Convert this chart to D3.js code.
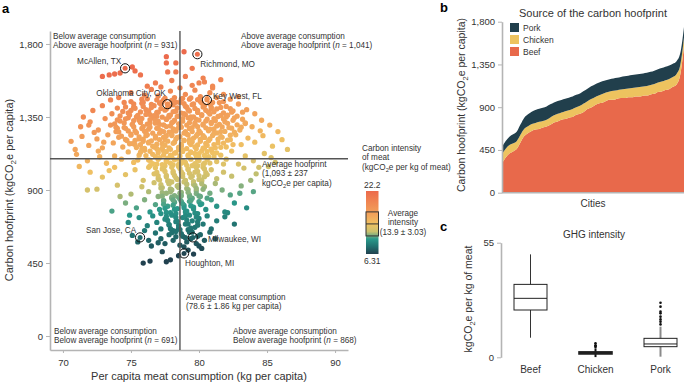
<!DOCTYPE html>
<html>
<head>
<meta charset="utf-8">
<script src="https://cdn.jsdelivr.net/npm/d3@7"></script>
<style>
body { margin: 0; background: #fff; }
svg { font-family: "Liberation Sans", Arial, sans-serif; }
</style>
</head>
<body>
<svg id="chart" width="685" height="383"></svg>
<script>
// ---- panel a data: per capita consumption (kg) vs hoofprint (kgCO2e)
// outer / sparse cities
var scatterPoints = [
  [73.4,1609],[73.8,1615],[74.2,1621],[75.1,1658],[75.3,1634],[75.7,1609],[72.9,1600],[77.6,1722],[77.6,1683],[78.3,1683],
  [77.7,1628],[78.3,1628],[78.9,1752],[80.3,1590],[80.4,1566],[81.0,1529],[79.0,1600],[78.0,1575],[76.8,1560],[81.6,1580],
  [79.5,1650],[76.2,1540],[80.0,1560],
  [74.1,1470],[75.0,1500],[75.8,1460],[76.5,1520],[77.0,1480],[77.4,1455],[77.9,1510],[78.2,1470],[78.6,1530],[79.0,1490],
  [79.3,1460],[79.7,1515],[80.1,1475],[80.8,1500],[81.3,1470],[81.8,1490],[82.3,1460],[76.0,1485],[78.8,1465],[79.5,1545],
  [77.2,1535],[82.9,1475],[73.5,1455],[81.0,1540],
  [72.2,1390],[72.9,1420],[73.6,1370],[74.0,1405],[74.5,1440],[74.8,1375],[75.2,1410],[75.5,1360],[75.8,1435],[76.1,1395],
  [76.4,1365],[76.7,1420],[77.0,1380],[77.3,1445],[77.6,1400],[77.8,1360],[78.1,1425],[78.3,1385],[78.6,1440],[78.9,1370],
  [79.1,1410],[79.4,1350],[79.6,1430],[79.9,1390],[80.2,1365],[80.4,1420],[80.7,1380],[81.0,1440],[81.3,1400],[81.6,1360],
  [82.0,1415],[82.4,1380],[82.9,1430],[83.5,1395],[84.1,1370],[76.9,1355],[78.5,1355],[80.1,1445],[81.8,1445],[75.0,1445],
  [77.2,1430],[79.2,1395],[80.9,1410],
  [71.3,1290],[72.0,1320],[72.6,1270],[73.1,1340],[73.5,1300],[73.9,1260],[74.2,1325],[74.5,1285],[74.8,1345],[75.1,1305],
  [75.3,1265],[75.6,1330],[75.9,1290],[76.1,1255],[76.4,1315],[76.6,1345],[76.9,1280],[77.1,1305],[77.4,1260],[77.6,1335],
  [77.9,1295],[78.1,1320],[78.3,1270],[78.6,1300],[78.8,1340],[79.0,1260],[79.3,1315],[79.5,1285],[79.8,1335],[80.0,1265],
  [80.3,1300],[80.5,1325],[80.8,1275],[81.1,1340],[81.3,1295],[81.6,1260],[81.9,1320],[82.2,1285],[82.6,1345],[83.0,1270],
  [83.4,1310],[83.9,1290],[84.5,1265],[85.2,1300],[75.4,1350],[76.8,1330],[78.0,1255],[79.7,1305],[80.9,1310],[77.8,1350],
  [79.2,1345],[82.0,1350],[74.0,1280],[76.3,1275],[78.5,1285],
  [70.6,1200],[71.4,1230],[71.9,1175],[72.5,1215],[72.9,1160],[73.3,1240],[73.7,1190],[74.1,1225],[74.4,1165],[74.7,1205],
  [75.0,1245],[75.3,1180],[75.6,1215],[75.8,1155],[76.1,1235],[76.3,1195],[76.6,1170],[76.8,1220],[77.1,1250],[77.3,1185],
  [77.5,1210],[77.8,1160],[78.0,1240],[78.2,1195],[78.4,1225],[78.7,1170],[78.9,1205],[79.1,1245],[79.4,1180],[79.6,1220],
  [79.8,1155],[80.1,1200],[80.3,1235],[80.6,1175],[80.8,1215],[81.1,1250],[81.4,1190],[81.7,1225],[82.0,1165],[82.3,1210],
  [82.7,1240],[83.1,1180],[83.6,1220],[84.1,1195],[84.7,1235],[85.4,1170],[86.1,1210],[74.9,1185],[76.9,1155],[78.5,1150],
  [79.9,1245],[81.2,1160],[77.6,1235],[79.3,1210],[80.4,1160],[75.9,1200],[73.0,1195],[82.5,1180],
  [71.0,1120],[71.8,1080],[72.6,1140],[73.2,1065],[73.8,1110],[74.3,1090],[74.8,1135],[75.2,1070],[75.6,1115],[76.0,1145],
  [76.3,1085],[76.6,1120],[76.9,1060],[77.1,1100],[77.4,1140],[77.6,1075],[77.9,1115],[78.1,1055],[78.3,1130],[78.5,1090],
  [78.8,1145],[79.0,1070],[79.2,1110],[79.5,1050],[79.7,1125],[79.9,1085],[80.2,1140],[80.4,1065],[80.7,1105],[81.0,1130],
  [81.3,1075],[81.6,1115],[82.0,1090],[82.4,1140],[82.9,1060],[83.4,1110],[84.0,1080],[84.8,1125],[85.6,1070],[77.0,1145],
  [78.7,1065],[80.0,1100],[81.8,1060],[76.4,1050],[80.9,1150],[79.4,1135],[77.7,1095],[75.5,1085],
  [72.0,1010],[72.9,980],[73.8,1040],[74.6,995],[75.3,1025],[75.9,960],[76.3,1040],[76.7,1000],[77.0,970],[77.3,1030],
  [77.6,990],[77.8,955],[78.1,1015],[78.3,975],[78.5,1045],[78.8,1000],[79.0,960],[79.2,1030],[79.5,985],[79.7,1010],
  [80.0,965],[80.3,1040],[80.6,995],[80.9,1025],[81.3,970],[81.8,1010],[82.4,985],[83.3,1035],[84.2,1000],[85.1,1045],
  [77.5,1050],[79.9,1050],[78.0,950],[80.2,955],
  [71.8,900],[72.5,905],[74.0,930],[75.0,875],[75.8,920],[76.3,890],[76.7,945],[77.0,860],[77.3,915],[77.6,880],
  [77.8,940],[78.0,900],[78.2,865],[78.4,925],[78.7,885],[78.9,950],[79.1,910],[79.3,870],[79.6,935],[79.8,895],
  [80.1,860],[80.4,920],[80.8,880],[81.2,940],[81.7,900],[82.3,870],[83.1,925],[84.0,890],[78.5,855],[77.9,905],
  [73.6,770],[74.6,820],[75.4,790],[76.0,840],[76.4,765],[76.8,810],[77.1,780],[77.4,835],[77.7,800],[77.9,760],
  [78.2,825],[78.4,785],[78.6,845],[78.9,805],[79.1,770],[79.3,830],[79.6,795],[79.9,755],[80.2,815],[80.5,780],
  [80.9,840],[81.3,800],[81.9,765],[82.6,820],[83.5,790],[78.0,850],[80.6,850],[77.2,755],[79.5,850],
  [74.8,700],[75.6,730],[76.2,680],[76.6,740],[76.9,700],[77.2,660],[77.5,720],[77.8,685],[78.0,745],[78.3,705],
  [78.5,665],[78.8,730],[79.0,690],[79.3,745],[79.5,710],[79.7,670],[80.0,725],[80.3,690],[80.6,740],[80.9,660],
  [81.3,710],[81.9,735],[82.6,690],[76.0,650],[79.2,655],[78.1,650],
  [75.1,620],[76.3,590],[76.8,635],[77.2,600],[77.5,570],[77.8,625],[78.1,590],[78.3,645],[78.6,560],[78.8,615],
  [79.1,580],[79.3,640],[79.8,570],[80.1,625],[80.4,590],[80.8,640],[81.2,600],[76.5,555],[77.0,575],[78.9,550],
  [80.0,555],[75.5,580],[79.4,600],
  [75.9,450],[76.4,462],[77.6,458],[77.9,470],[78.5,495],[79.2,530],[79.6,505],[80.2,540],[77.3,520],
  [71.5,1350],[72.3,1255],[70.9,1150],[72.7,1105],[73.4,1020],[71.2,1045],[84.6,1330],[85.8,1260],[86.5,1150],[84.4,1040],
  [83.8,960],[85.3,1100],[83.2,1380],[71.9,1300],[83.0,880],[82.1,760],[74.9,745],[74.2,860]
];
// dense core cities
var scatterPointsCore = [
  [76.2,1462],[76.9,1455],[77.5,1466],[78.0,1452],[78.7,1460],[79.4,1468],[79.9,1457],[80.6,1463],
  [75.2,1431],[75.9,1440],[76.5,1428],[77.1,1437],[77.7,1429],[78.3,1441],[78.9,1433],[79.5,1426],[80.2,1436],[80.8,1430],[81.5,1439],
  [74.6,1412],[75.3,1404],[75.9,1415],[76.5,1408],[77.2,1402],[77.8,1414],[78.4,1406],[79.0,1417],[79.7,1403],[80.3,1411],[80.9,1399],[81.6,1409],[82.3,1401],
  [74.4,1384],[75.0,1390],[75.7,1381],[76.3,1388],[76.9,1379],[77.5,1392],[78.1,1383],[78.7,1374],[79.3,1387],[79.9,1378],[80.5,1391],[81.1,1382],[81.8,1375],[82.5,1388],
  [74.2,1356],[74.9,1363],[75.5,1352],[76.1,1366],[76.7,1358],[77.3,1349],[77.9,1362],[78.4,1354],[79.0,1365],[79.6,1351],[80.2,1359],[80.8,1368],[81.4,1353],[82.1,1361],[82.8,1355],
  [74.0,1332],[74.6,1339],[75.2,1328],[75.8,1341],[76.4,1333],[77.0,1325],[77.6,1338],[78.2,1330],[78.8,1324],[79.4,1340],[80.0,1331],[80.6,1336],[81.2,1327],[81.8,1338],[82.5,1330],[83.2,1336],
  [73.8,1308],[74.5,1313],[75.1,1303],[75.7,1316],[76.2,1306],[76.8,1312],[77.4,1301],[78.0,1315],[78.5,1308],[79.1,1300],[79.7,1314],[80.3,1306],[80.9,1317],[81.5,1304],[82.1,1311],[82.8,1302],[83.4,1314],
  [73.9,1287],[74.6,1280],[75.2,1290],[75.8,1279],[76.4,1288],[77.0,1282],[77.6,1291],[78.1,1276],[78.7,1287],[79.3,1279],[79.9,1290],[80.5,1283],[81.1,1277],[81.7,1289],[82.4,1281],[83.1,1287],
  [74.1,1258],[74.8,1264],[75.4,1253],[76.0,1262],[76.6,1250],[77.2,1266],[77.8,1257],[78.3,1263],[78.9,1251],[79.5,1260],[80.1,1254],[80.7,1265],[81.3,1252],[81.9,1261],[82.6,1256],
  [74.3,1232],[75.0,1238],[75.6,1228],[76.2,1240],[76.8,1231],[77.4,1226],[78.0,1236],[78.6,1229],[79.2,1239],[79.8,1233],[80.4,1224],[81.0,1236],[81.6,1230],[82.3,1238],
  [74.6,1212],[75.3,1205],[75.9,1214],[76.5,1203],[77.1,1211],[77.7,1201],[78.3,1214],[78.9,1206],[79.5,1198],[80.1,1212],[80.7,1204],[81.4,1213],[82.1,1207],
  [75.1,1186],[75.7,1180],[76.3,1190],[76.9,1182],[77.5,1176],[78.1,1188],[78.7,1181],[79.3,1192],[79.9,1178],[80.5,1187],[81.1,1180],[81.8,1189],
  [75.4,1162],[76.0,1156],[76.7,1165],[77.3,1158],[77.9,1151],[78.5,1163],[79.1,1155],[79.7,1166],[80.3,1158],[80.9,1152],[81.6,1163],
  [75.7,1133],[76.4,1139],[77.0,1130],[77.6,1137],[78.2,1127],[78.8,1138],[79.4,1131],[80.0,1124],[80.6,1136],[81.3,1129],
  [76.1,1112],[76.8,1106],[77.4,1115],[78.0,1103],[78.6,1110],[79.2,1117],[79.8,1105],[80.4,1113],[81.1,1104],
  [76.4,1083],[77.0,1089],[77.6,1080],[78.2,1086],[78.8,1078],[79.4,1090],[80.0,1082],[80.6,1088],
  [76.6,1062],[77.3,1056],[77.9,1065],[78.5,1058],[79.1,1052],[79.7,1063],[80.3,1057],[80.8,1066],
  [76.8,1037],[77.4,1031],[78.0,1040],[78.6,1033],[79.2,1026],[79.8,1038],[80.4,1030],
  [76.9,1008],[77.5,1014],[78.1,1005],[78.7,1012],[79.3,1003],[79.9,1015],[80.5,1007],
  [77.0,987],[77.6,981],[78.2,990],[78.8,983],[79.4,978],[80.0,989],[80.4,982],
  [77.1,962],[77.7,956],[78.4,965],[79.0,958],[79.6,952],[80.2,963],
  [77.2,933],[77.8,939],[78.5,930],[79.1,936],[79.7,928],[80.2,938],
  [77.2,912],[77.9,906],[78.5,915],[79.2,903],[79.8,910],[80.3,904],
  [77.3,883],[77.9,889],[78.6,880],[79.2,886],[79.8,878],
  [77.3,862],[78.0,856],[78.7,865],[79.3,858],[80.0,863],
  [77.4,833],[78.1,839],[78.7,830],[79.4,836],[80.0,828],
  [77.4,812],[78.1,806],[78.8,815],[79.4,803],[80.1,810],
  [77.5,787],[78.2,781],[78.9,790],[79.6,783],
  [77.6,762],[78.3,756],[79.0,765],[79.7,758],
  [77.6,737],[78.3,731],[79.0,740],[79.8,733],
  [77.7,712],[78.4,706],[79.1,715],[79.9,704],
  [77.8,687],[78.5,681],[79.2,690],[79.9,683],
  [77.9,662],[78.6,656],[79.4,665],
  [78.0,637],[78.7,631],[79.5,640],
  [78.3,612],[79.0,606],[79.9,615]
];
var cityNames = ['McAllen, TX', 'Richmond, MO', 'Oklahoma City, OK', 'Key West, FL', 'San Jose, CA', 'Milwaukee, WI', 'Houghton, MI'];
var cityConsumption = [74.57, 79.88, 77.67, 80.58, 75.67, 79.55, 78.9];
var cityHoofprint = [1650, 1737, 1429, 1455, 608, 608, 509];
var consumptionTicks = [70, 75, 80, 85, 90];
var hoofprintTicks = [0, 450, 900, 1350, 1800];
var avgConsumption = 78.6, sdConsumption = 1.86;
var avgHoofprint = 1093, sdHoofprint = 237;
var intensityMin = 6.31, intensityMax = 22.2, avgIntensity = 13.9, sdIntensity = 3.03;
var quadrantCounts = [931, 1041, 691, 868]; // TL, TR, BL, BR

// ---- panel b data: cities sorted by hoofprint (sampled), kgCO2e per capita
var beefByCity = [311,371,412,435,463,532,596,626,650,665,671,687,696,714,740,750,768,776,790,797,
  820,830,850,880,896,920,940,948,966,979,978,989,998,996,1006,1005,1013,1012,1021,1022,
  1035,1041,1060,1065,1082,1090,1114,1140,1245,1545];
var chickenByCity = [95,92,90,85,82,80,76,74,72,70,75,68,72,78,74,80,76,82,78,85,
  80,84,88,82,90,86,84,92,88,86,95,90,88,96,92,98,94,100,96,102,
  98,104,100,106,102,108,104,110,100,90];
var porkByCity = [78,82,88,95,100,108,118,125,130,135,138,140,140,138,136,135,133,132,132,130,
  130,131,132,133,134,134,133,132,131,130,130,131,132,133,134,135,136,137,138,138,
  139,140,140,141,141,142,140,135,125,110];
var meatTypes = ['Pork', 'Chicken', 'Beef'];

// ---- panel c data: GHG intensity box stats (kgCO2e per kg of meat)
var boxCategories = ['Beef', 'Chicken', 'Pork'];
var boxLow = [9.4, 0.1, 0.3];
var boxQ1 = [22.7, 1.6, 5.1];
var boxMedian = [28.3, 2.1, 6.4];
var boxQ3 = [35.0, 2.6, 9.1];
var boxHigh = [49.4, 4.3, 14.7];
var boxOutliers = [[], [5.0, 5.4, 5.8, 6.7], [15.8, 17.1, 18.2, 19.5, 21.1, 21.9, 24.3, 26.2]];

var svg = d3.select('#chart');
var axisGrey = '#b4b4b4';
var textCol = '#333';

function styleAxis(g, size) {
  g.attr('font-family', null).attr('font-size', null);
  g.select('.domain').attr('stroke', axisGrey).attr('stroke-width', 1.6);
  g.selectAll('.tick line').attr('stroke', axisGrey).attr('stroke-width', 1);
  g.selectAll('.tick text').attr('fill', textCol).attr('font-size', size || 9.5);
}

// multi-line label helper; each line is a list of [text, style] pieces
function addLines(parent, x, y, lines, opts) {
  opts = opts || {};
  var t = parent.append('text').attr('x', x).attr('y', y)
    .attr('font-size', opts.size || 8.2).attr('fill', textCol)
    .attr('text-anchor', opts.anchor || 'start');
  lines.forEach(function(line, i) {
    line.forEach(function(seg, j) {
      var ts = t.append('tspan').text(seg[0]);
      if (j === 0) ts.attr('x', x).attr('dy', i === 0 ? 0 : (opts.lh || 9.3));
      if (seg[1] === 'i') ts.attr('font-style', 'italic');
      if (seg[1] === 'sub') ts.attr('font-size', '0.7em').attr('dy', 2);
      if (seg[1] === 'after') ts.attr('dy', -2);
    });
  });
  return t;
}

// ---------------- panel a ----------------
var xA = d3.scaleLinear().domain([69.05, 90.95]).range([50, 348]);
var yA = d3.scaleLinear().domain([-86, 1880]).range([350, 31]);

var colorStops = d3.scaleLinear()
  .domain([6.31, 8.2, 10.1, 11.0, 12.0, 13.9, 15.8, 19.3, 22.2])
  .range(['#21414f', '#21716f', '#2a9a8b', '#7cae80', '#cbc16e', '#efc263', '#f2a85c', '#f08752', '#ec6a4c'])
  .interpolate(d3.interpolateRgb)
  .clamp(true);

svg.append('g').attr('transform', 'translate(50,0)')
  .call(d3.axisLeft(yA).tickValues(hoofprintTicks).tickFormat(d3.format(',')).tickSize(4).tickSizeOuter(0).tickPadding(3))
  .call(styleAxis);
svg.append('g').attr('transform', 'translate(0,350)')
  .call(d3.axisBottom(xA).tickValues(consumptionTicks).tickSize(3).tickSizeOuter(0).tickPadding(6))
  .call(styleAxis);

var allPoints = scatterPoints.concat(scatterPointsCore);
svg.append('g').selectAll('circle')
  .data(allPoints)
  .enter().append('circle')
  .attr('cx', function(d) { return xA(d[0]); })
  .attr('cy', function(d) { return yA(d[1]); })
  .attr('r', 2.65)
  .attr('fill', function(d) { return colorStops(d[1] / d[0]); });

// city markers
var cities = cityNames.map(function(n, i) { return { name: n, x: cityConsumption[i], y: cityHoofprint[i] }; });
svg.append('g').selectAll('circle')
  .data(cities).enter().append('circle')
  .attr('cx', function(d) { return xA(d.x); })
  .attr('cy', function(d) { return yA(d.y); })
  .attr('r', 2.5)
  .attr('fill', function(d) { return colorStops(d.y / d.x); });
svg.append('g').selectAll('circle')
  .data(cities).enter().append('circle')
  .attr('cx', function(d) { return xA(d.x); })
  .attr('cy', function(d) { return yA(d.y); })
  .attr('r', 4.6)
  .attr('fill', 'none').attr('stroke', '#111').attr('stroke-width', 1);

// label offsets (px) relative to each marker
var cityLabelOffset = {
  'McAllen, TX': [-48, -4], 'Richmond, MO': [3, 13], 'Oklahoma City, OK': [-71, -8],
  'Key West, FL': [6, -1], 'San Jose, CA': [-54, -4], 'Milwaukee, WI': [15, 5], 'Houghton, MI': [1, 13]
};
svg.append('g').selectAll('text')
  .data(cities).enter().append('text')
  .attr('x', function(d) { return xA(d.x) + cityLabelOffset[d.name][0]; })
  .attr('y', function(d) { return yA(d.y) + cityLabelOffset[d.name][1]; })
  .attr('font-size', 8.2).attr('fill', textCol)
  .text(function(d) { return d.name; });

// average lines
svg.append('line')
  .attr('x1', xA(avgConsumption)).attr('x2', xA(avgConsumption))
  .attr('y1', yA.range()[1]).attr('y2', yA.range()[0])
  .attr('stroke', '#555').attr('stroke-width', 1.4);
svg.append('line')
  .attr('x1', xA.range()[0]).attr('x2', xA.range()[1])
  .attr('y1', yA(avgHoofprint)).attr('y2', yA(avgHoofprint))
  .attr('stroke', '#555').attr('stroke-width', 1.4);

var fmt = d3.format(',');
addLines(svg, 53, 39, [[['Below average consumption']], [['Above average hoofprint ('], ['n', 'i'], [' = ' + fmt(quadrantCounts[0]) + ')']]]);
addLines(svg, 241, 39, [[['Above average consumption']], [['Above average hoofprint ('], ['n', 'i'], [' = ' + fmt(quadrantCounts[1]) + ')']]]);
addLines(svg, 54, 334, [[['Below average consumption']], [['Below average hoofprint ('], ['n', 'i'], [' = ' + fmt(quadrantCounts[2]) + ')']]]);
addLines(svg, 233, 334, [[['Above average consumption']], [['Below average hoofprint ('], ['n', 'i'], [' = ' + fmt(quadrantCounts[3]) + ')']]]);
addLines(svg, 262, 167, [[['Average hoofprint']], [['(' + fmt(avgHoofprint) + ' ± ' + sdHoofprint]], [['kgCO'], ['2', 'sub'], ['e per capita)', 'after']]]);
addLines(svg, 186, 300, [[['Average meat consumption']], [['(' + avgConsumption + ' ± ' + sdConsumption + ' kg per capita)']]]);

// axis titles a
svg.append('text').attr('transform', 'translate(13,190) rotate(-90)')
  .attr('text-anchor', 'middle').attr('font-size', 11).attr('fill', textCol)
  .call(function(t) {
    t.append('tspan').text('Carbon hoofprint (kgCO');
    t.append('tspan').text('2').attr('font-size', 8).attr('dy', 2.5);
    t.append('tspan').text('e per capita)').attr('dy', -2.5);
  });
svg.append('text').attr('x', 199).attr('y', 380)
  .attr('text-anchor', 'middle').attr('font-size', 11).attr('fill', textCol)
  .text('Per capita meat consumption (kg per capita)');

// colour bar
var cbTop = 191, cbBottom = 254, cbX = 366, cbW = 12.5;
var yCb = d3.scaleLinear().domain([intensityMin, intensityMax]).range([cbBottom, cbTop]);
var grad = svg.append('defs').append('linearGradient').attr('id', 'cbGrad')
  .attr('x1', 0).attr('y1', 1).attr('x2', 0).attr('y2', 0);
colorStops.domain().forEach(function(v) {
  grad.append('stop').attr('offset', (v - intensityMin) / (intensityMax - intensityMin)).attr('stop-color', colorStops(v));
});
svg.append('rect').attr('x', cbX).attr('y', cbTop).attr('width', cbW).attr('height', cbBottom - cbTop).attr('fill', 'url(#cbGrad)');
svg.append('rect').attr('x', cbX).attr('y', yCb(avgIntensity + sdIntensity)).attr('width', cbW)
  .attr('height', yCb(avgIntensity - sdIntensity) - yCb(avgIntensity + sdIntensity))
  .attr('fill', 'none').attr('stroke', '#333').attr('stroke-width', 1);
svg.append('line').attr('x1', cbX).attr('x2', cbX + cbW).attr('y1', yCb(avgIntensity)).attr('y2', yCb(avgIntensity))
  .attr('stroke', '#333').attr('stroke-width', 1);
svg.append('text').attr('x', cbX + cbW / 2).attr('y', cbTop - 3).attr('text-anchor', 'middle').attr('font-size', 8.5).attr('fill', textCol).text(intensityMax);
svg.append('text').attr('x', cbX + cbW / 2).attr('y', cbBottom + 9.5).attr('text-anchor', 'middle').attr('font-size', 8.5).attr('fill', textCol).text(intensityMin);
addLines(svg, 362, 151, [[['Carbon intensity']], [['of meat']], [['(kgCO'], ['2', 'sub'], ['e per kg of meat)', 'after']]]);
addLines(svg, 403, 216, [[['Average']], [['intensity']], [['(' + avgIntensity + ' ± ' + sdIntensity + ')']]], { anchor: 'middle' });

// ---------------- panel b ----------------
var xB = d3.scaleLinear().domain([0, beefByCity.length - 1]).range([502, 684]);
var yB = d3.scaleLinear().domain([0, 1800]).range([192.7, 21.7]);
var meatColor = { Pork: '#213f4c', Chicken: '#edc35f', Beef: '#e8694b' };
var table = beefByCity.map(function(b, i) { return { Beef: b, Chicken: chickenByCity[i], Pork: porkByCity[i] }; });
var series = d3.stack().keys(['Beef', 'Chicken', 'Pork'])(table);
var area = d3.area()
  .x(function(d, i) { return xB(i); })
  .y0(function(d) { return yB(d[0]); })
  .y1(function(d) { return yB(d[1]); })
  .curve(d3.curveMonotoneX);
svg.append('g').selectAll('path').data(series).enter().append('path')
  .attr('d', area).attr('fill', function(s) { return meatColor[s.key]; });

svg.append('g').attr('transform', 'translate(502,0)')
  .call(d3.axisLeft(yB).tickValues(hoofprintTicks).tickFormat(d3.format(',')).tickSize(4).tickSizeOuter(0).tickPadding(3))
  .call(styleAxis);
svg.append('line').attr('x1', 502).attr('x2', 684).attr('y1', 192.7).attr('y2', 192.7).attr('stroke', axisGrey).attr('stroke-width', 1.6);

var legB = svg.append('g');
meatTypes.forEach(function(k, i) {
  legB.append('rect').attr('x', 510).attr('y', 23 + i * 12).attr('width', 9).attr('height', 9).attr('fill', meatColor[k]);
  legB.append('text').attr('x', 523).attr('y', 31 + i * 12).attr('font-size', 8.5).attr('fill', textCol).text(k);
});
svg.append('text').attr('x', 593).attr('y', 16.5).attr('text-anchor', 'middle').attr('font-size', 11).attr('fill', textCol)
  .text('Source of the carbon hoofprint');
svg.append('text').attr('x', 593).attr('y', 207).attr('text-anchor', 'middle').attr('font-size', 10).attr('fill', textCol).text('Cities');
svg.append('text').attr('transform', 'translate(465,105) rotate(-90)')
  .attr('text-anchor', 'middle').attr('font-size', 10.5).attr('fill', textCol)
  .call(function(t) {
    t.append('tspan').text('Carbon hoofprint (kgCO');
    t.append('tspan').text('2').attr('font-size', 7.5).attr('dy', 2.5);
    t.append('tspan').text('e per capita)').attr('dy', -2.5);
  });

// ---------------- panel c ----------------
var xC = d3.scalePoint().domain(boxCategories).range([498, 693]).padding(0.5);
var yC = d3.scaleLinear().domain([0, 55]).range([357.3, 242.7]);
var boxW = 33;
svg.append('g').attr('transform', 'translate(501,0)')
  .call(d3.axisLeft(yC).tickValues([0, 55]).tickSize(4).tickSizeOuter(0).tickPadding(3))
  .call(styleAxis);

var whiskerCol = ['#333', '#111', '#8a8a8a'];
var whiskerW = [1, 2, 2];
boxCategories.forEach(function(c, i) {
  var cx = xC(c);
  var g = svg.append('g');
  g.append('line').attr('x1', cx).attr('x2', cx).attr('y1', yC(boxLow[i])).attr('y2', yC(boxHigh[i]))
    .attr('stroke', whiskerCol[i]).attr('stroke-width', whiskerW[i]);
  g.append('rect').attr('x', cx - boxW / 2).attr('width', boxW)
    .attr('y', yC(boxQ3[i])).attr('height', yC(boxQ1[i]) - yC(boxQ3[i]))
    .attr('fill', i === 1 ? '#111' : '#fff').attr('stroke', '#222').attr('stroke-width', i === 1 ? 1.6 : 1);
  g.append('line').attr('x1', cx - boxW / 2).attr('x2', cx + boxW / 2).attr('y1', yC(boxMedian[i])).attr('y2', yC(boxMedian[i]))
    .attr('stroke', '#222').attr('stroke-width', 1);
  g.selectAll('circle').data(boxOutliers[i]).enter().append('circle')
    .attr('cx', cx).attr('cy', function(v) { return yC(v); }).attr('r', 1.3).attr('fill', '#111');
  svg.append('text').attr('x', cx).attr('y', 373).attr('text-anchor', 'middle').attr('font-size', 10).attr('fill', textCol).text(c);
});
svg.append('text').attr('x', 594).attr('y', 238).attr('text-anchor', 'middle').attr('font-size', 10).attr('fill', textCol).text('GHG intensity');
svg.append('text').attr('transform', 'translate(472,299) rotate(-90)')
  .attr('text-anchor', 'middle').attr('font-size', 10.5).attr('fill', textCol)
  .call(function(t) {
    t.append('tspan').text('kgCO');
    t.append('tspan').text('2').attr('font-size', 7.5).attr('dy', 2.5);
    t.append('tspan').text('e per kg of meat').attr('dy', -2.5);
  });

// panel letters
[['a', 2, 13], ['b', 440, 12], ['c', 440, 231]].forEach(function(p) {
  svg.append('text').attr('x', p[1]).attr('y', p[2]).attr('font-size', 13).attr('font-weight', 'bold').attr('fill', '#000').text(p[0]);
});
</script>
</body>
</html>
